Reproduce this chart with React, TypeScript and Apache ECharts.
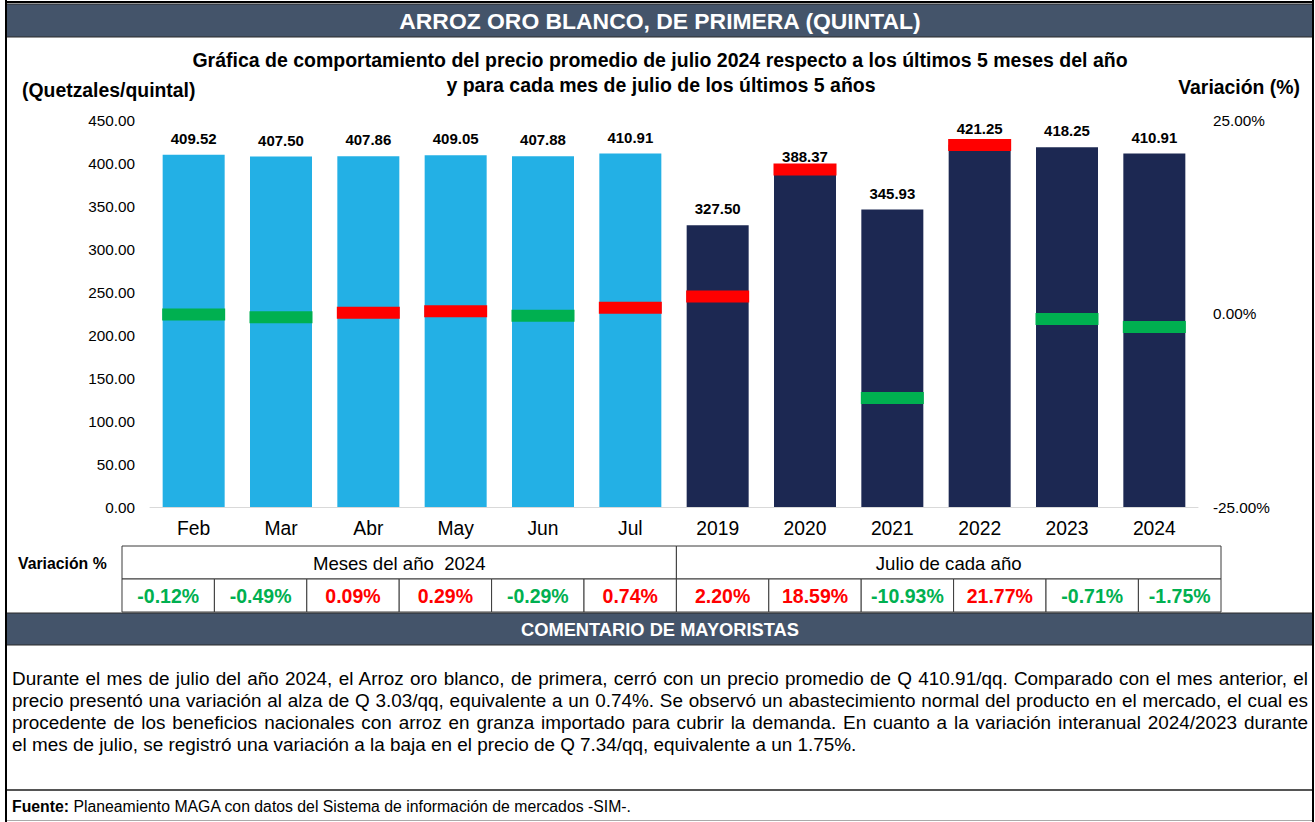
import React, { useEffect, useRef } from 'react';
import * as echarts from 'echarts';

// ---------- DATA ----------
const categories = ['Feb', 'Mar', 'Abr', 'May', 'Jun', 'Jul', '2019', '2020', '2021', '2022', '2023', '2024'];
const prices = [409.52, 407.5, 407.86, 409.05, 407.88, 410.91, 327.5, 388.37, 345.93, 421.25, 418.25, 410.91];
const variations = [-0.12, -0.49, 0.09, 0.29, -0.29, 0.74, 2.2, 18.59, -10.93, 21.77, -0.71, -1.75];
const monthCount = 6; // first six categories are months of 2024
const groupLabels = ['Meses del año  2024', 'Julio de cada año'];
const priceAxis = { min: 0, max: 450, interval: 50 };
const varAxis = { min: -25, max: 25, interval: 25 };

const headerTitle = 'ARROZ ORO BLANCO, DE PRIMERA (QUINTAL)';
const chartTitle = [
  'Gráfica de comportamiento del precio promedio de julio 2024 respecto a los últimos 5 meses del año',
  'y para cada mes de julio de los últimos 5 años',
];
const leftAxisName = '(Quetzales/quintal)';
const rightAxisName = 'Variación (%)';
const tableRowName = 'Variación %';
const commentTitle = 'COMENTARIO DE MAYORISTAS';
const commentLines = [
  'Durante el mes de julio del año 2024, el Arroz oro blanco, de primera, cerró con un precio promedio de Q 410.91/qq. Comparado con el mes anterior, el',
  'precio presentó una variación al alza de Q 3.03/qq, equivalente a un 0.74%. Se observó un abastecimiento normal del producto en el mercado, el cual es',
  'procedente de los beneficios nacionales con arroz en granza importado para cubrir la demanda. En cuanto a la variación interanual 2024/2023 durante',
  'el mes de julio, se registró una variación a la baja en el precio de Q 7.34/qq, equivalente a un 1.75%.',
];
const sourceBold = 'Fuente:';
const sourceText = ' Planeamiento MAGA con datos del Sistema de información de mercados -SIM-.';

// ---------- STYLE ----------
const FONT = '"Liberation Sans", Arial, sans-serif';
const SLATE = '#44546A';
const LIGHT = '#23B0E5';
const NAVY = '#1C2852';
const RED = '#FF0000';
const GREEN = '#00B050';

const W = 1315;
const H = 822;

function txt(x: number, y: number, text: string, opts: any = {}) {
  const align = opts.align || 'center';
  return {
    type: 'text',
    x,
    y,
    silent: true,
    z: 10,
    style: {
      text,
      fill: opts.fill || '#000',
      fontSize: opts.fontSize || 16,
      fontWeight: opts.fontWeight || 'normal',
      fontFamily: FONT,
      align,
      textAlign: align,
      verticalAlign: 'middle',
      textVerticalAlign: 'middle',
      rich: opts.rich,
    },
  };
}

function rect(x: number, y: number, w: number, h: number, fill: string, stroke?: string, lw = 1) {
  return {
    type: 'rect',
    silent: true,
    z: 5,
    shape: { x, y, width: w, height: h },
    style: { fill, stroke: stroke || null, lineWidth: lw },
  };
}

function hline(x1: number, x2: number, y: number, stroke: string, lw = 1) {
  return {
    type: 'line',
    silent: true,
    z: 6,
    shape: { x1, y1: y, x2, y2: y },
    style: { stroke, lineWidth: lw },
  };
}
function vline(x: number, y1: number, y2: number, stroke: string, lw = 1) {
  return {
    type: 'line',
    silent: true,
    z: 6,
    shape: { x1: x, y1, x2: x, y2 },
    style: { stroke, lineWidth: lw },
  };
}

function buildGraphics() {
  const g: any[] = [];
  // header bar
  g.push(rect(6, 4, 1307, 33, SLATE, '#2b2b2b', 1));
  g.push(txt(660, 21, headerTitle, { fill: '#fff', fontSize: 22.9, fontWeight: 'bold' }));
  // titles
  g.push(txt(660, 60, chartTitle[0], { fontSize: 19.5, fontWeight: 'bold' }));
  g.push(txt(661, 85, chartTitle[1], { fontSize: 19.5, fontWeight: 'bold' }));
  g.push(txt(22, 90, leftAxisName, { fontSize: 19.4, fontWeight: 'bold', align: 'left' }));
  g.push(txt(1300, 87, rightAxisName, { fontSize: 19.4, fontWeight: 'bold', align: 'right' }));

  // table
  const tL = 122;
  const tR = 1221;
  const colW = 92.4;
  const r1 = 546;
  const r2 = 579;
  const r3 = 612;
  const cellX = (i: number) => tL + i * colW;
  const split = cellX(monthCount);
  g.push(txt(18, 563, tableRowName, { fontSize: 15.8, fontWeight: 'bold', align: 'left' }));
  g.push(rect(tL, r1, split - tL, r2 - r1, '#fff', '#3a3a3a'));
  g.push(rect(split, r1, tR - split, r2 - r1, '#fff', '#3a3a3a'));
  g.push(txt((tL + split) / 2, 563, groupLabels[0], { fontSize: 18.6 }));
  g.push(txt((split + tR) / 2, 563, groupLabels[1], { fontSize: 18.6 }));
  variations.forEach((v, i) => {
    const x0 = cellX(i);
    const x1 = i === variations.length - 1 ? tR : cellX(i + 1);
    g.push(rect(x0, r2, x1 - x0, r3 - r2, '#fff', '#3a3a3a'));
    g.push(
      txt((x0 + x1) / 2, 596, `${v.toFixed(2)}%`, {
        fontSize: 19.5,
        fontWeight: 'bold',
        fill: v >= 0 ? RED : GREEN,
      })
    );
  });

  // comment bar
  g.push(rect(6, 613, 1307, 32, SLATE, '#2b2b2b', 1));
  g.push(txt(660, 629, commentTitle, { fill: '#fff', fontSize: 18.3, fontWeight: 'bold' }));

  // footer separator + footer
  g.push(hline(6, 1313, 790, '#555', 2));
  g.push(
    txt(12, 806, `{b|${sourceBold}}${sourceText}`, {
      align: 'left',
      fontSize: 15.8,
      rich: { b: { fontWeight: 'bold', fontSize: 15.8, fontFamily: FONT, fill: '#000' } },
    })
  );
  g.push(hline(6, 1313, 820.5, '#aaa', 1));

  // outer frame
  g.push(vline(6, 0, H, '#000', 2));
  g.push(vline(1313, 0, H, '#000', 2));
  g.push(hline(5, 1314, 2, '#000', 2));
  return g;
}

export default function App() {
  const ref = useRef<HTMLDivElement>(null);

  useEffect(() => {
    document.body.style.margin = '0';
    if (!ref.current) return;
    const chart = echarts.init(ref.current, undefined, { renderer: 'svg' });
    const option: any = {
      animation: false,
      backgroundColor: '#fff',
      textStyle: { fontFamily: FONT },
      grid: { left: 150, right: W - 1198, top: 120, bottom: H - 507, containLabel: false },
      xAxis: {
        type: 'category',
        data: categories,
        axisLine: { show: true, lineStyle: { color: '#D9D9D9', width: 1 } },
        axisTick: { show: false },
        axisLabel: { fontSize: 19.3, color: '#000', margin: 12, fontFamily: FONT },
      },
      yAxis: [
        {
          type: 'value',
          min: priceAxis.min,
          max: priceAxis.max,
          interval: priceAxis.interval,
          axisLine: { show: false },
          axisTick: { show: false },
          splitLine: { show: false },
          axisLabel: {
            fontSize: 15.3,
            color: '#000',
            margin: 15,
            fontFamily: FONT,
            formatter: (v: number) => v.toFixed(2),
          },
        },
        {
          type: 'value',
          position: 'right',
          min: varAxis.min,
          max: varAxis.max,
          interval: varAxis.interval,
          axisLine: { show: false },
          axisTick: { show: false },
          splitLine: { show: false },
          axisLabel: {
            fontSize: 15.3,
            color: '#000',
            margin: 15,
            fontFamily: FONT,
            formatter: (v: number) => `${v.toFixed(2)}%`,
          },
        },
      ],
      series: [
        {
          type: 'bar',
          yAxisIndex: 0,
          barWidth: 62,
          data: prices.map((v, i) => ({ value: v, itemStyle: { color: i < monthCount ? LIGHT : NAVY } })),
          label: {
            show: true,
            position: 'top',
            distance: 9,
            fontSize: 15,
            fontWeight: 'bold',
            color: '#000',
            fontFamily: FONT,
            formatter: (p: any) => Number(p.value).toFixed(2),
          },
          z: 2,
        },
        {
          type: 'scatter',
          yAxisIndex: 1,
          symbol: 'rect',
          symbolSize: [63, 12],
          data: variations.map((v) => ({
            value: v,
            itemStyle: { color: v >= 0 ? RED : GREEN, opacity: 1 },
          })),
          itemStyle: { opacity: 1 },
          z: 4,
          silent: true,
        },
      ],
      graphic: buildGraphics(),
    };
    chart.setOption(option);
    return () => chart.dispose();
  }, []);

  return (
    <div style={{ position: 'relative', width: W, height: H, overflow: 'hidden', background: '#fff' }}>
      <div ref={ref} style={{ position: 'absolute', left: 0, top: 0, width: W, height: H }} />
      {commentLines.map((line, i) => (
        <div
          key={i}
          style={{
            position: 'absolute',
            left: 12,
            width: 1296,
            top: 668 + i * 22,
            fontFamily: FONT,
            fontSize: 18.9,
            lineHeight: '22px',
            color: '#000',
            textAlign: 'justify',
            textAlignLast: i < commentLines.length - 1 ? 'justify' : 'left',
            whiteSpace: 'nowrap',
          } as any}
        >
          {line}
        </div>
      ))}
    </div>
  );
}
